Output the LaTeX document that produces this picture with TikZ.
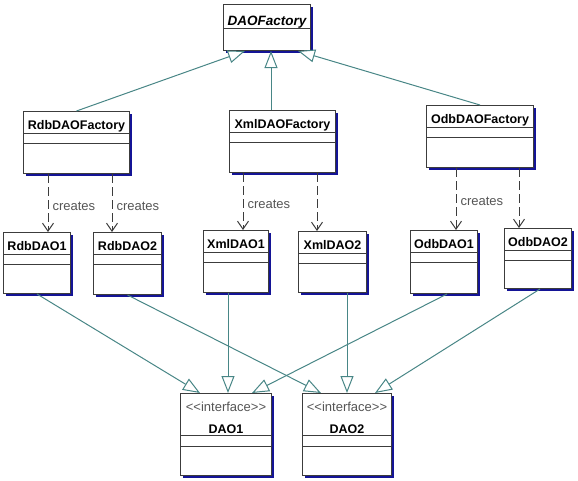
\documentclass[tikz,border=0pt]{standalone}
\usepackage{fontspec}
\newfontfamily\umlfont{Liberation Sans}
\usetikzlibrary{arrows.meta,shadows,calc}

\definecolor{linkteal}{RGB}{72,134,134}
\definecolor{shadowblue}{RGB}{20,20,150}
\definecolor{boxgray}{RGB}{60,60,60}
\definecolor{textgray}{RGB}{85,85,85}

\tikzset{
  classbox/.style={draw=boxgray, line width=1pt, fill=white, anchor=north west, inner sep=0pt,
    drop shadow={shadow xshift=2.5pt, shadow yshift=-2.5pt, fill=shadowblue, opacity=1}},
  classname/.style={font=\umlfont\fontsize{12.5}{14}\selectfont\bfseries, inner sep=0pt, anchor=base},
  stereo/.style={font=\umlfont\fontsize{13}{15}\selectfont, text=textgray, inner sep=0pt, anchor=base},
  compart/.style={draw=boxgray, line width=0.8pt},
  realize/.style={draw=linkteal, line width=1pt, -{Triangle[length=17pt,width=13pt,fill=white]}},
  creates/.style={draw=boxgray, line width=1pt, dash pattern=on 9pt off 4pt, -{Straight Barb[length=8pt,width=11pt]}},
  createlabel/.style={font=\umlfont\fontsize{13}{15}\selectfont, text=textgray, anchor=west, inner sep=0pt, xshift=4pt}
}

\begin{document}
\begin{tikzpicture}[x=1pt,y=-1pt]
  \useasboundingbox (0,0) rectangle (578,480);

  % abstract factory
  \node[classbox, minimum width=87pt, minimum height=46pt] (daof) at (223,4) {};
  \node[classname, font=\umlfont\fontsize{13.5}{15}\selectfont\bfseries\itshape] (daof-name) at ($(daof.north)+(0,21)$) {DAOFactory};
  \draw[compart] ($(daof.north west)+(0,24)$) -- ($(daof.north east)+(0,24)$);

  % concrete factories and daos
  \foreach \n/\x/\y/\w/\h/\t in {
    rdbf/23/111/106/62/RdbDAOFactory,
    xmlf/229/110/106/62/XmlDAOFactory,
    odbf/426/105/107/62/OdbDAOFactory,
    rdb1/3/232/67/61/RdbDAO1,
    rdb2/93/232/68/62/RdbDAO2,
    xml1/203/230/65/62/XmlDAO1,
    xml2/298/231/68/61/XmlDAO2,
    odb1/410/230/67/63/OdbDAO1,
    odb2/504/228/67/60/OdbDAO2}{
    \node[classbox, minimum width=\w pt, minimum height=\h pt] (\n) at (\x,\y) {};
    \node[classname] (\n-name) at ($(\n.north)+(0,18.5)$) {\t};
    \draw[compart] ($(\n.north west)+(0,22)$) -- ($(\n.north east)+(0,22)$);
    \draw[compart] ($(\n.north west)+(0,32)$) -- ($(\n.north east)+(0,32)$);
  }

  % interfaces
  \foreach \n/\x/\w/\t in {dao1/180/91/DAO1, dao2/302/89/DAO2}{
    \node[classbox, minimum width=\w pt, minimum height=82pt] (\n) at (\x,393) {};
    \node[stereo] (\n-stereo) at ($(\n.north)+(0,18)$) {<<interface>>};
    \node[classname] (\n-name) at ($(\n.north)+(0,40.5)$) {\t};
    \draw[compart] ($(\n.north west)+(0,42)$) -- ($(\n.north east)+(0,42)$);
    \draw[compart] ($(\n.north west)+(0,53)$) -- ($(\n.north east)+(0,53)$);
  }

  % inheritance
  \draw[realize] (rdbf.north) -- ([xshift=22pt]daof.south west);
  \draw[realize] ([xshift=42pt]xmlf.north west) -- ([xshift=48pt]daof.south west);
  \draw[realize] (odbf.north) -- ([xshift=-13pt]daof.south east);

  \draw[realize] (rdb1.south) -- ([xshift=20pt]dao1.north west);
  \draw[realize] (rdb2.south) -- ([xshift=19pt]dao2.north west);
  \draw[realize] ([xshift=25pt]xml1.south west) -- ([xshift=48pt]dao1.north west);
  \draw[realize] ([xshift=49pt]xml2.south west) -- ([xshift=45pt]dao2.north west);
  \draw[realize] ([xshift=37pt]odb1.south west) -- ([xshift=72pt]dao1.north west);
  \draw[realize] ([xshift=36pt]odb2.south west) -- ([xshift=73pt]dao2.north west);

  % creates
  \draw[creates] ([xshift=25pt]rdbf.south west) -- ([xshift=45pt]rdb1.north west)
    node[createlabel, pos=0.55] {creates};
  \draw[creates] ([xshift=89pt]rdbf.south west) -- ([xshift=19pt]rdb2.north west)
    node[createlabel, pos=0.55] {creates};
  \draw[creates] ([xshift=14pt]xmlf.south west) -- ([xshift=40pt]xml1.north west)
    node[createlabel, pos=0.55] {creates};
  \draw[creates] ([xshift=88pt]xmlf.south west) -- ([xshift=19pt]xml2.north west);
  \draw[creates] ([xshift=30pt]odbf.south west) -- ([xshift=46pt]odb1.north west)
    node[createlabel, pos=0.54] {creates};
  \draw[creates] ([xshift=93pt]odbf.south west) -- ([xshift=15pt]odb2.north west);
\end{tikzpicture}
\end{document}
